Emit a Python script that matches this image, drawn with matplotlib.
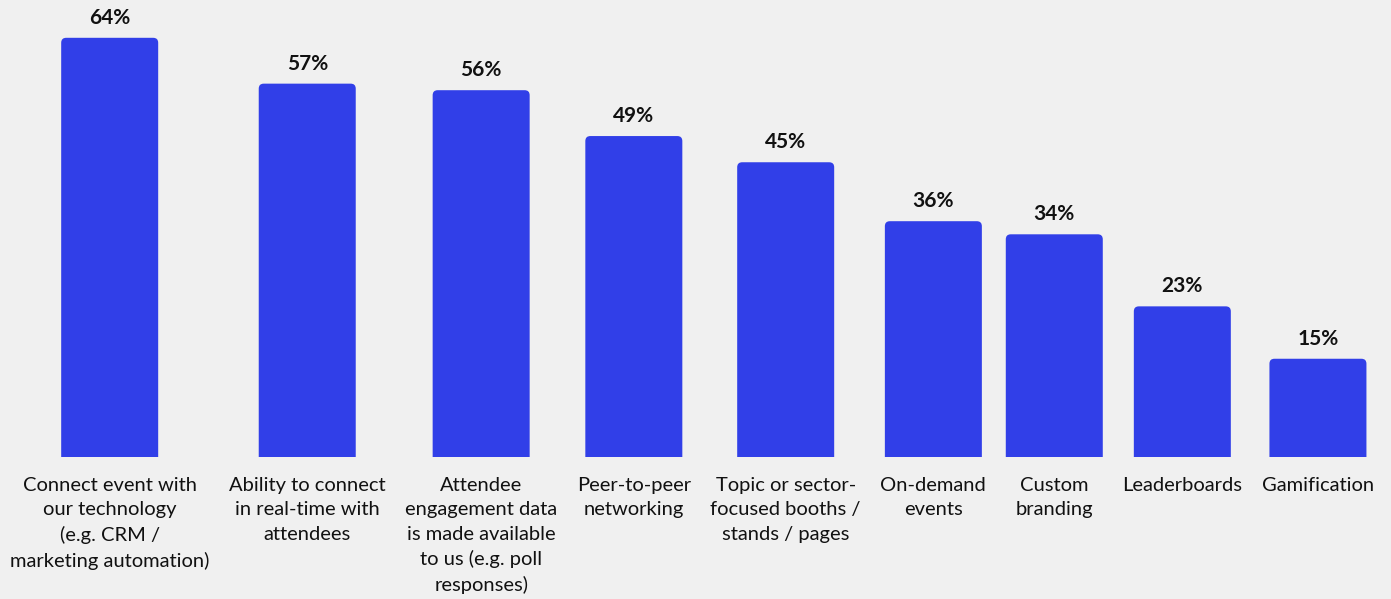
import numpy as np
import matplotlib.pyplot as plt
from matplotlib.patches import FancyBboxPatch

categories = [
    "Connect event with\nour technology\n(e.g. CRM /\nmarketing automation)",
    "Ability to connect\nin real-time with\nattendees",
    "Attendee\nengagement data\nis made available\nto us (e.g. poll\nresponses)",
    "Peer-to-peer\nnetworking",
    "Topic or sector-\nfocused booths /\nstands / pages",
    "On-demand\nevents",
    "Custom\nbranding",
    "Leaderboards",
    "Gamification",
]
values = [64, 57, 56, 49, 45, 36, 34, 23, 15]

bg = "#F0F0F0"
bar_color = "#313FE8"
plt.rcParams["font.family"] = ["Lato", "DejaVu Sans"]

W, H = 1391, 599
fig = plt.figure(figsize=(W / 100, H / 100), dpi=100, facecolor=bg)
base = 457  # pixel row of the bar baseline, counted from the top
px_per_pct = 6.55
ax = fig.add_axes([0, (H - base) / H, 1, base / H])
ax.set_facecolor(bg)
ax.set_xlim(0, W)
ax.set_ylim(0, base / px_per_pct)
ax.axis("off")

bar_w = 97
renderer = fig.canvas.get_renderer()

# category labels first, so their widths can drive the spacing
labels = []
for cat in categories:
    t = ax.annotate(cat, xy=(0, 0), xytext=(0, -20), textcoords="offset pixels",
                    ha="center", va="top", fontsize=14.5, color="#111111",
                    linespacing=1.52, multialignment="center",
                    annotation_clip=False)
    labels.append(t)
widths = np.array([max(t.get_window_extent(renderer).width, bar_w) for t in labels])

left, right = 10, 1374
gap = (right - left - widths.sum()) / (len(widths) - 1)
centers = left + np.cumsum(widths + gap) - gap - widths / 2

for t, x in zip(labels, centers):
    t.xy = (x, 0)

bars = ax.bar(centers, values, width=bar_w, color=bar_color)
for rect, v in zip(bars, values):
    rect.set_visible(False)
    # rounded box that starts below the baseline; the axes clip its lower corners
    box = FancyBboxPatch((rect.get_x(), -2), rect.get_width(), v + 2,
                         boxstyle="round,pad=0,rounding_size=5",
                         mutation_aspect=1 / px_per_pct,
                         facecolor=bar_color, edgecolor="none")
    ax.add_patch(box)
    ax.annotate(f"{v}%", xy=(rect.get_x() + rect.get_width() / 2, v),
                xytext=(0, 10), textcoords="offset pixels",
                ha="center", va="bottom", fontsize=15, fontweight="bold",
                color="#111111")

fig.savefig("out.png", dpi=100, facecolor=bg)
